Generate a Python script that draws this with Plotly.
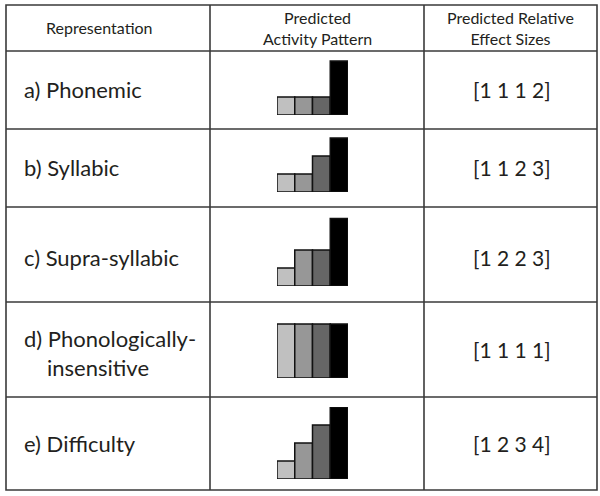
import plotly.graph_objects as go

# ---- data ----
representations = ["a) Phonemic", "b) Syllabic", "c) Supra-syllabic",
                   "d) Phonologically-", "e) Difficulty"]
effect_sizes = ["[1 1 1 2]", "[1 1 2 3]", "[1 2 2 3]", "[1 1 1 1]", "[1 2 3 4]"]
bar_categories = ["1", "2", "3", "4"]
pattern_a = [1, 1, 1, 3]
pattern_b = [1, 1, 2, 3]
pattern_c = [1, 2, 2, 3.75]
pattern_d = [3, 3, 3, 3]
pattern_e = [1, 2, 3, 4]
patterns = [pattern_a, pattern_b, pattern_c, pattern_d, pattern_e]
header_texts = ["Representation", "Predicted<br>Activity Pattern",
                "Predicted Relative<br>Effect Sizes"]

# ---- layout geometry (pixels) ----
W, H = 600, 496
def px(x): return x / W
def py(y): return 1 - y / H

left, right, top, bottom = 6, 597, 5, 490
col_lines = [210, 424]
row_lines = [51, 129, 207, 302, 397]
baselines = [115, 192, 286, 378, 479]
label_y = [90, 167, 257, 338, 443]
unit_px = 18
bar_x0, bar_x1 = 277, 348
bar_colors = ["#c0c0c0", "#979797", "#666666", "#000000"]

FONT = "Lato"
TXT = "#231f20"
LINE = "#3a3a3a"

fig = go.Figure()
layout_axes = {}
for i, vals in enumerate(patterns):
    n = i + 1
    xa = "x" if n == 1 else f"x{n}"
    ya = "y" if n == 1 else f"y{n}"
    fig.add_trace(go.Bar(
        x=bar_categories, y=vals, xaxis=xa, yaxis=ya,
        marker=dict(color=bar_colors, line=dict(color="#111111", width=1.5)),
        showlegend=False, hoverinfo="skip"))
    b = baselines[i]
    layout_axes[f"xaxis{'' if n == 1 else n}"] = dict(
        domain=[px(bar_x0), px(bar_x1)], anchor=ya, range=[-0.5, 3.5],
        visible=False, fixedrange=True)
    layout_axes[f"yaxis{'' if n == 1 else n}"] = dict(
        domain=[py(b), py(b - 4 * unit_px)], anchor=xa, range=[0, 4],
        visible=False, fixedrange=True)

shapes = []
shapes.append(dict(type="rect", xref="paper", yref="paper",
                   x0=px(left), x1=px(right), y0=py(bottom), y1=py(top),
                   line=dict(color=LINE, width=1.6)))
for xl in col_lines:
    shapes.append(dict(type="line", xref="paper", yref="paper",
                       x0=px(xl), x1=px(xl), y0=py(bottom), y1=py(top),
                       line=dict(color=LINE, width=1.6)))
for yl in row_lines:
    shapes.append(dict(type="line", xref="paper", yref="paper",
                       x0=px(left), x1=px(right), y0=py(yl), y1=py(yl),
                       line=dict(color=LINE, width=1.6)))

ann = []
hdr_font = dict(family=FONT, size=16, color=TXT)
ann.append(dict(text=header_texts[0], x=px(99), y=py(28), xref="paper", yref="paper",
                showarrow=False, font=hdr_font, xanchor="center", yanchor="middle"))
ann.append(dict(text=header_texts[1], x=px(317), y=py(28), xref="paper", yref="paper",
                showarrow=False, font=hdr_font, xanchor="center", yanchor="middle"))
ann.append(dict(text=header_texts[2], x=px(510), y=py(28), xref="paper", yref="paper",
                showarrow=False, font=hdr_font, xanchor="center", yanchor="middle"))

lbl_font = dict(family=FONT, size=22, color=TXT)
num_font = dict(family=FONT, size=21, color=TXT)
for i, lab in enumerate(representations):
    ann.append(dict(text=lab, x=px(22), y=py(label_y[i]), xref="paper", yref="paper",
                    showarrow=False, font=lbl_font, xanchor="left", yanchor="middle"))
    ann.append(dict(text=effect_sizes[i], x=px(512), y=py(label_y[i] if i != 3 else 349),
                    xref="paper", yref="paper", showarrow=False, font=num_font,
                    xanchor="center", yanchor="middle"))
ann.append(dict(text="insensitive", x=px(45), y=py(367), xref="paper", yref="paper",
                showarrow=False, font=lbl_font, xanchor="left", yanchor="middle"))

fig.update_layout(width=W, height=H, margin=dict(l=0, r=0, t=0, b=0),
                  paper_bgcolor="white", plot_bgcolor="rgba(0,0,0,0)",
                  bargap=0, shapes=shapes, annotations=ann, **layout_axes)
fig.write_html("out.html", config={"displayModeBar": False, "staticPlot": True},
               post_script="document.body.style.margin='0';document.body.style.overflow='hidden';")
